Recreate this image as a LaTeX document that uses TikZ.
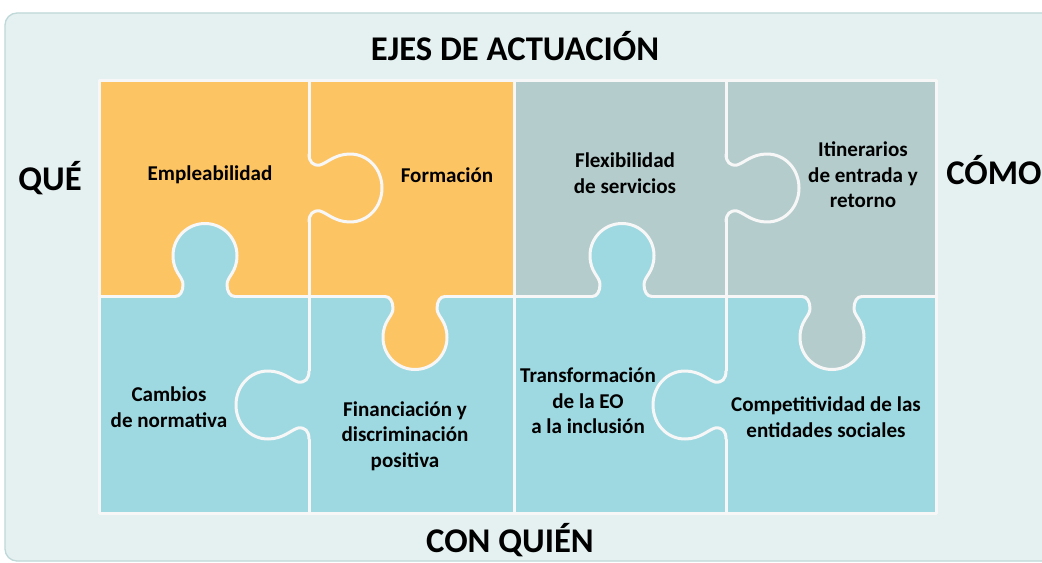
\documentclass[tikz,border=0pt]{standalone}
\usepackage{fontspec}
\setmainfont{Carlito}
\definecolor{orangec}{HTML}{FDC463}
\definecolor{grayc}{HTML}{B4CCCC}
\definecolor{bluec}{HTML}{9ED9E1}
\definecolor{bgc}{HTML}{E5F0F0}
\definecolor{bgline}{HTML}{BFD8D8}
\definecolor{seamc}{HTML}{F7F7F7}
\tikzset{
  seam/.style={draw=seamc, line width=2.25pt, line cap=round, line join=round},
  celltext/.style={font=\fontsize{15.8}{19.2}\selectfont\bfseries, align=center, text=black, inner sep=0pt},
  bigtext/.style={font=\fontsize{26}{31}\selectfont\bfseries, text=black, inner sep=0pt},
  pics/hknob/.style={code={
    \fill[#1] (-2,-34) -- (0,-34) .. controls (0,-26) and (4,-22) .. (11,-23)
      .. controls (18,-25) and (26,-34) .. (41,-34)
      .. controls (59,-34) and (73,-19) .. (73,0)
      .. controls (73,19) and (59,34) .. (41,34)
      .. controls (26,34) and (18,25) .. (11,23)
      .. controls (4,22) and (0,26) .. (0,34) -- (-2,34) -- cycle;
    \draw[seam] (0,-34) .. controls (0,-26) and (4,-22) .. (11,-23)
      .. controls (18,-25) and (26,-34) .. (41,-34)
      .. controls (59,-34) and (73,-19) .. (73,0)
      .. controls (73,19) and (59,34) .. (41,34)
      .. controls (26,34) and (18,25) .. (11,23)
      .. controls (4,22) and (0,26) .. (0,34);
  }},
  pics/vtab/.style={code={
    \fill[#1] (-2,-30) -- (0,-30) .. controls (0,-25) and (5,-22) .. (12,-22)
      .. controls (20,-22) and (24,-32) .. (41,-32)
      .. controls (58.7,-32) and (73,-17.7) .. (73,0)
      .. controls (73,17.7) and (58.7,32) .. (41,32)
      .. controls (24,32) and (20,22) .. (12,22)
      .. controls (5,22) and (0,25) .. (0,30) -- (-2,30) -- cycle;
    \draw[seam] (0,-30) .. controls (0,-25) and (5,-22) .. (12,-22)
      .. controls (20,-22) and (24,-32) .. (41,-32)
      .. controls (58.7,-32) and (73,-17.7) .. (73,0)
      .. controls (73,17.7) and (58.7,32) .. (41,32)
      .. controls (24,32) and (20,22) .. (12,22)
      .. controls (5,22) and (0,25) .. (0,30);
  }}
}
\begin{document}
\begin{tikzpicture}[x=0.75pt,y=-0.75pt]
\useasboundingbox (0,0) rectangle (1042,563);
\fill[white] (0,0) rectangle (1042,563);
\begin{scope}
  \clip (0,0) rectangle (1042,563);
  \draw[fill=bgc, draw=bgline, line width=1pt, rounded corners=9pt] (5,13) rectangle (1075,561);
\end{scope}
% pieces
\fill[orangec] (99,81) rectangle (514.5,296.5);
\fill[grayc] (514.5,81) rectangle (936,296.5);
\fill[bluec] (99,296.5) rectangle (936,513);
% straight seams
\draw[seam] (99,81) rectangle (936,513);
\draw[seam] (99,296.5) -- (936,296.5);
\draw[seam] (309,81) -- (309,513);
\draw[seam] (514.5,81) -- (514.5,513);
\draw[seam] (726,81) -- (726,513);
% tabs and knobs
\pic at (309,188) {hknob=orangec};
\pic at (726,188) {hknob=grayc};
\pic[rotate=180] at (309,405) {hknob=bluec};
\pic[rotate=180] at (726,405) {hknob=bluec};
\pic[rotate=90] at (205,296.5) {vtab=bluec};
\pic[rotate=-90] at (415,296.5) {vtab=orangec};
\pic[rotate=90] at (622,296.5) {vtab=bluec};
\pic[rotate=-90] at (832,296.5) {vtab=grayc};
% texts
\node[bigtext] (title) at (515,46) {EJES DE ACTUACIÓN};
\node[bigtext] (que) at (50,178) {QUÉ};
\node[bigtext, anchor=west] (como) at (946,170) {CÓMO};
\node[bigtext] (conquien) at (510,540) {CON QUIÉN};
\node[celltext] (emp) at (210,175) {Empleabilidad};
\node[celltext] (form) at (447,175) {Formación};
\node[celltext] (flex) at (625,173) {Flexibilidad\\de servicios};
\node[celltext] (itin) at (863,175) {Itinerarios\\de entrada y\\retorno};
\node[celltext] (camb) at (169,407) {Cambios\\de normativa};
\node[celltext] (fin) at (405,436) {Financiación y\\discriminación\\positiva};
\node[celltext] (trans) at (588,401) {Transformación\\de la EO\\a la inclusión};
\node[celltext] (comp) at (826,417) {Competitividad de las\\entidades sociales};
\end{tikzpicture}
\end{document}
